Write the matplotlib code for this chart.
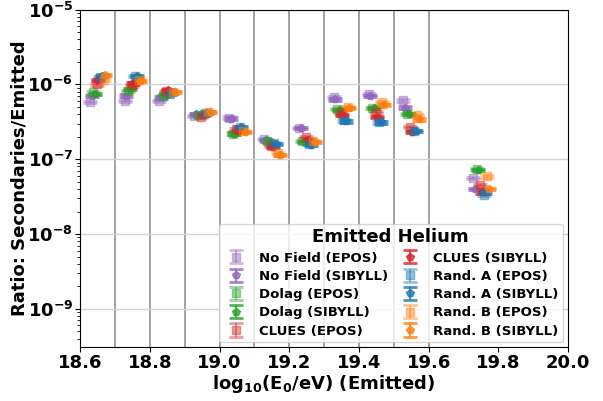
import numpy as np
import matplotlib.pyplot as plt

plt.rcParams['font.weight'] = 'bold'
plt.rcParams['axes.labelweight'] = 'bold'
plt.rcParams['mathtext.default'] = 'bf'

# bin centres of log10(E0/eV)
bin_centers = [18.65, 18.75, 18.85, 18.95, 19.05, 19.15, 19.25, 19.35, 19.45, 19.55, 19.75]

labels = ["No Field (EPOS)", "No Field (SIBYLL)", "Dolag (EPOS)", "Dolag (SIBYLL)",
          "CLUES (EPOS)", "CLUES (SIBYLL)", "Rand. A (EPOS)", "Rand. A (SIBYLL)",
          "Rand. B (EPOS)", "Rand. B (SIBYLL)"]
colors = ["tab:purple", "tab:purple", "tab:green", "tab:green", "tab:red", "tab:red",
          "tab:blue", "tab:blue", "tab:orange", "tab:orange"]

nofield_epos = [5.8e-7, 6.0e-7, 6.0e-7, 3.8e-7, 3.6e-7, 1.85e-7, 2.6e-7, 6.7e-7, 7.4e-7, 6.1e-7, 5.6e-8]
nofield_sib = [7.0e-7, 7.1e-7, 6.7e-7, 4.0e-7, 3.5e-7, 1.8e-7, 2.6e-7, 6.3e-7, 7.0e-7, 4.9e-7, 4.0e-8]
dolag_epos = [7.8e-7, 8.2e-7, 7.0e-7, 3.9e-7, 2.2e-7, 1.75e-7, 1.75e-7, 4.7e-7, 4.8e-7, 4.0e-7, 7.4e-8]
dolag_sib = [7.5e-7, 8.6e-7, 7.2e-7, 3.9e-7, 2.2e-7, 1.7e-7, 1.7e-7, 4.6e-7, 4.8e-7, 4.0e-7, 7.2e-8]
clues_epos = [1.0e-6, 9.7e-7, 8.2e-7, 3.7e-7, 2.5e-7, 1.5e-7, 2.0e-7, 4.2e-7, 4.3e-7, 2.7e-7, 4.5e-8]
clues_sib = [1.14e-6, 1.03e-6, 8.4e-7, 3.9e-7, 2.4e-7, 1.45e-7, 1.8e-7, 3.9e-7, 3.7e-7, 2.3e-7, 3.6e-8]
randa_epos = [1.25e-6, 1.3e-6, 7.4e-7, 4.1e-7, 2.7e-7, 1.65e-7, 1.6e-7, 3.3e-7, 3.1e-7, 2.4e-7, 3.3e-8]
randa_sib = [1.3e-6, 1.3e-6, 7.6e-7, 4.2e-7, 2.7e-7, 1.6e-7, 1.55e-7, 3.2e-7, 3.1e-7, 2.4e-7, 3.6e-8]
randb_epos = [1.16e-6, 1.16e-6, 8.0e-7, 4.3e-7, 2.4e-7, 1.2e-7, 1.75e-7, 5.0e-7, 5.8e-7, 3.9e-7, 5.9e-8]
randb_sib = [1.35e-6, 1.1e-6, 8.0e-7, 4.3e-7, 2.3e-7, 1.15e-7, 1.7e-7, 4.8e-7, 5.3e-7, 3.4e-7, 4.0e-8]

series = [nofield_epos, nofield_sib, dolag_epos, dolag_sib, clues_epos, clues_sib,
          randa_epos, randa_sib, randb_epos, randb_sib]

fig = plt.figure(figsize=(6.03, 4.01), dpi=100)
ax = fig.add_axes([0.133, 0.135, 0.809, 0.841])

for edge in np.arange(18.7, 19.65, 0.1):
    ax.axvline(edge, color='gray', lw=1.3, alpha=0.8, zorder=0)

xc = np.array(bin_centers)
for i, (vals, lab, col) in enumerate(zip(series, labels, colors)):
    vals = np.array(vals)
    epos = 'EPOS' in lab
    ax.errorbar(xc + (i - 4.5) * 0.005, vals, yerr=0.035 * vals,
                fmt='s' if epos else 'p', color=col, ms=6, elinewidth=1.5,
                capsize=5, capthick=2, alpha=0.45 if epos else 0.8, label=lab)

ax.set_yscale('log')
ax.set_xlim(18.6, 20.0)
ax.set_ylim(3.1e-10, 1e-5)
ax.grid(axis='y', which='major', color='lightgray', lw=1)
ax.set_axisbelow(True)
ax.tick_params(labelsize=13, pad=1.5)
for t in ax.get_xticklabels() + ax.get_yticklabels():
    t.set_fontweight('bold')
ax.set_xlabel('log$_{10}$(E$_0$/eV) (Emitted)', fontsize=13, fontweight='bold', labelpad=1)
ax.set_ylabel('Ratio: Secondaries/Emitted', fontsize=13, fontweight='bold', labelpad=-1)

leg = ax.legend(loc='lower right', ncol=2, title='Emitted Helium',
                title_fontproperties={'size': 13, 'weight': 'bold'},
                prop={'size': 9.5, 'weight': 'bold'}, columnspacing=0.6,
                labelspacing=0.4, handletextpad=0.8, borderaxespad=0.4,
                borderpad=0.3)

fig.savefig('out.png', dpi=100)
